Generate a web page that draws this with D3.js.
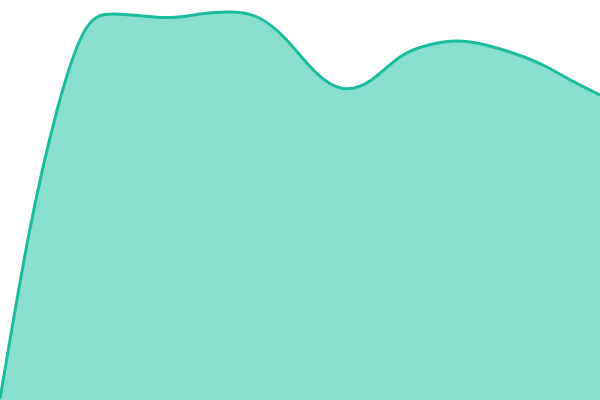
<!DOCTYPE html>
<meta charset="utf-8">
<style>
  body { margin: 0; background: #fff; }
  .area { fill: #89e0cf; stroke: none; }
  .line { fill: none; stroke: #1abc9c; stroke-width: 3; }
</style>
<body>
<script src="https://cdn.jsdelivr.net/npm/d3@7"></script>
<script>
// sample index along the x axis and the value read at each one
var steps = [0, 1, 2, 3, 4, 5, 6, 7, 8, 9, 10, 11, 12, 13, 14, 15, 16, 17, 18, 19, 20, 21];
var values = [1, 164, 290, 371, 386, 384, 382.5, 386, 388, 383, 361, 329,
              311.5, 320, 343, 355, 359, 355, 346.5, 335, 319.5, 305];

var width = 600, height = 400;

var svg = d3.select("body").append("svg")
    .attr("width", width)
    .attr("height", height);

var data = steps.map(function(s, i) { return {x: s, y: values[i]}; });

var xScale = d3.scaleLinear().domain([0, 21]).range([0, width]);
var yScale = d3.scaleLinear().domain([0, 400]).range([height, 0]);

var area = d3.area()
    .x(function(d) { return xScale(d.x); })
    .y0(height)
    .y1(function(d) { return yScale(d.y); })
    .curve(d3.curveNatural);

var line = d3.line()
    .x(function(d) { return xScale(d.x); })
    .y(function(d) { return yScale(d.y); })
    .curve(d3.curveNatural);

svg.append("path").datum(data).attr("class", "area").attr("d", area);
svg.append("path").datum(data).attr("class", "line").attr("d", line);
</script>
</body>
